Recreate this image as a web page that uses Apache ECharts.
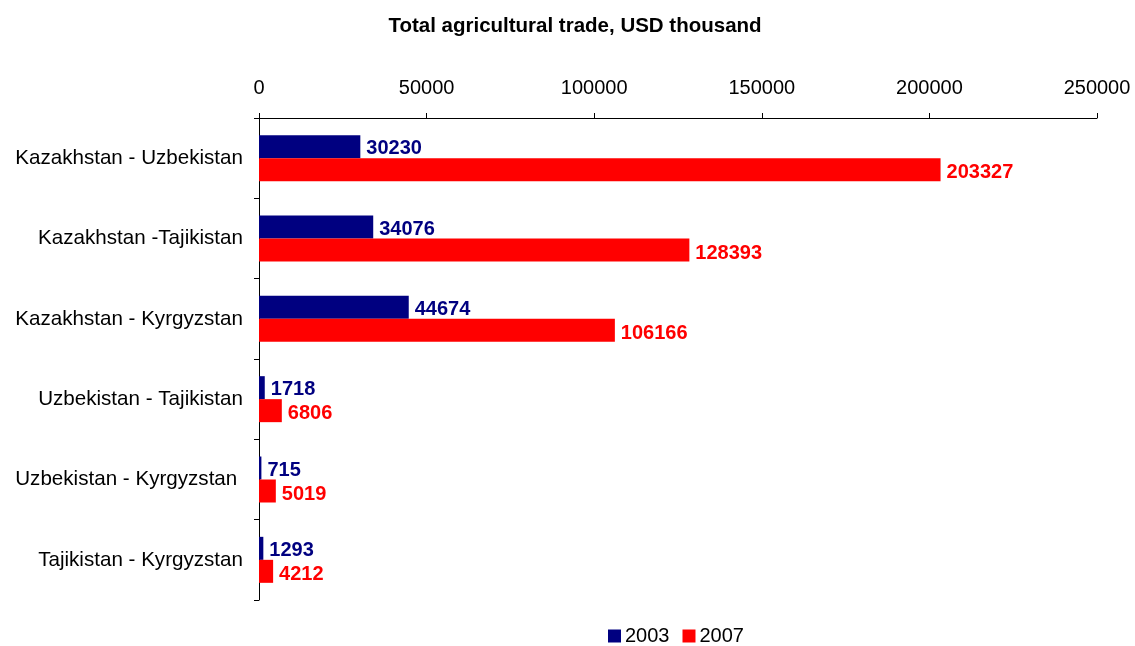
<!DOCTYPE html>
<html>
<head>
<meta charset="utf-8">
<script src="https://cdn.jsdelivr.net/npm/echarts@6/dist/echarts.min.js"></script>
<style>
  html, body { margin: 0; padding: 0; background: #fff; }
  #chart { width: 1135px; height: 646px; }
</style>
</head>
<body>
<div id="chart"></div>
<script>
// data
var categories = [
  'Kazakhstan - Uzbekistan',
  'Kazakhstan -Tajikistan',
  'Kazakhstan - Kyrgyzstan',
  'Uzbekistan - Tajikistan',
  'Uzbekistan - Kyrgyzstan ',
  'Tajikistan - Kyrgyzstan'
];
var values2003 = [30230, 34076, 44674, 1718, 715, 1293];
var values2007 = [203327, 128393, 106166, 6806, 5019, 4212];

var myChart = echarts.init(document.getElementById('chart'));

var font = 'Liberation Sans, Arial, sans-serif';

var option = {
  backgroundColor: '#fff',
  animation: false,
  title: {
    text: 'Total agricultural trade, USD thousand',
    left: 570,
    textAlign: 'center',
    top: 11,
    textStyle: { fontFamily: font, fontSize: 20.5, fontWeight: 'bold', color: '#000' }
  },
  legend: {
    top: 621,
    left: 603,
    itemWidth: 13,
    itemHeight: 13,
    itemGap: 13,
    icon: 'rect',
    textStyle: { fontFamily: font, fontSize: 20, color: '#000', padding: [0, 0, 0, -1] },
    data: ['2003', '2007']
  },
  grid: { left: 259, right: 38, top: 118, bottom: 46, containLabel: false },
  xAxis: {
    type: 'value',
    position: 'top',
    min: 0,
    max: 250000,
    interval: 50000,
    axisLine: { show: true, lineStyle: { color: '#000', width: 1 } },
    axisTick: { show: true, length: 5, lineStyle: { color: '#000' } },
    splitLine: { show: false },
    axisLabel: {
      fontFamily: font, fontSize: 20, color: '#000', margin: 20,
      formatter: function (v) { return String(v); }
    }
  },
  yAxis: {
    type: 'category',
    inverse: true,
    data: categories,
    axisLine: { show: true, lineStyle: { color: '#000', width: 1 } },
    axisTick: { show: true, length: 5, lineStyle: { color: '#000' } },
    axisLabel: { fontFamily: font, fontSize: 20.6, color: '#000', margin: 16 }
  },
  series: [
    {
      name: '2003',
      type: 'bar',
      data: values2003,
      barWidth: 23,
      barGap: '0%',
      itemStyle: { color: '#000080' },
      label: {
        show: true,
        position: 'right',
        distance: 6,
        offset: [0, 2],
        fontFamily: font,
        fontSize: 20,
        fontWeight: 'bold',
        color: '#000080'
      }
    },
    {
      name: '2007',
      type: 'bar',
      data: values2007,
      barWidth: 23,
      barGap: '0%',
      itemStyle: { color: '#ff0000' },
      label: {
        show: true,
        position: 'right',
        distance: 6,
        offset: [0, 3],
        fontFamily: font,
        fontSize: 20,
        fontWeight: 'bold',
        color: '#ff0000'
      }
    }
  ]
};

myChart.setOption(option);
</script>
</body>
</html>
